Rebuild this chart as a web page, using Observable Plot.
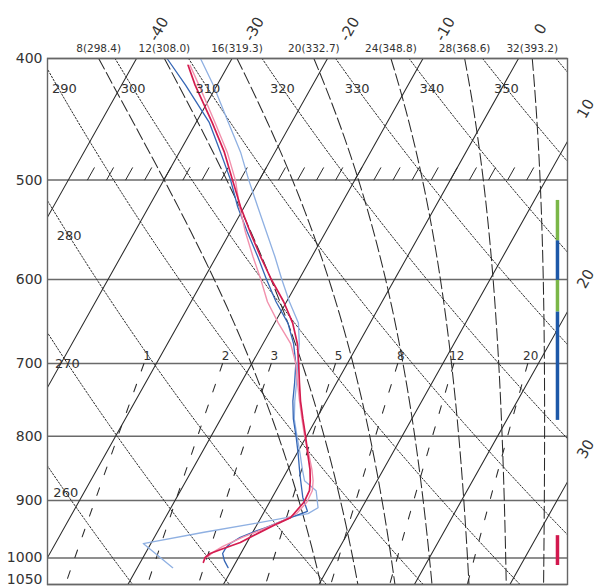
<!DOCTYPE html>
<html><head><meta charset="utf-8">
<script src="https://cdn.jsdelivr.net/npm/d3@7"></script>
<script src="https://cdn.jsdelivr.net/npm/@observablehq/plot@0.6"></script>
<style>html,body{margin:0;padding:0;background:#fff}svg{display:block}</style>
</head><body><div id="chart"></div>
<script>
// ---- reference lines of the diagram ----
const pressureLevels = [400, 500, 600, 700, 800, 900, 1000, 1050];
const isotherms = [-110, -100, -90, -80, -70, -60, -50, -40, -30, -20, -10, 0, 10, 20, 30, 40];
const isothermTopLabels = [-40, -30, -20, -10, 0];
const isothermRightLabels = [10, 20, 30];
const dryThetas = [220, 230, 240, 250, 260, 270, 280, 290, 300, 310, 320, 330, 340, 350, 360, 370, 380, 390, 400];
const dryLabelsEdge = [290];
const dryLabelsTop = [300, 310, 320, 330, 340, 350];
const dryLabelsLeft = [280, 270, 260];
const dryLabelsLeftP = [554, 700, 887];
const moistThetaW = [8, 12, 16, 20, 24, 28, 32];
const moistThetaE = [298.4, 308.0, 319.3, 332.7, 348.8, 368.6, 393.2];
const mixingRatios = [1, 2, 3, 5, 8, 12, 20];
const hatchTemps = [-38,-36,-34,-32,-30,-28,-26,-24,-22,-20,-18,-16,-14,-12,-10,-8,-6,-4,-2,0,2,4,6,8];

// ---- soundings (pressure hPa, temperature °C) ----
const redP = [405,420,450,475,500,525,550,575,600,625,650,675,700,725,750,775,800,825,850,868,884,903,929,939,956,972,983,992,999,1008];
const redT = [-34.2,-32.3,-28.3,-25.3,-22.8,-20.4,-17.9,-15.4,-12.9,-10.3,-8.1,-6.4,-5.1,-3.9,-2.7,-1.4,-0.1,1.1,2.3,3.0,3.5,3.6,3.1,2.1,0.6,-0.7,-2.1,-3.2,-3.5,-3.4];
const pinkP = [405,420,450,475,500,525,550,575,600,625,650,675,700,725,750,775,800,825,850,868,884,903,922,934,946,963,979,990,999];
const pinkT = [-34.0,-31.9,-28.0,-25.0,-22.5,-20.5,-18.4,-16.2,-14.0,-12.0,-9.6,-7.1,-5.4,-4.1,-2.8,-1.5,-0.2,1.2,2.5,3.3,3.8,3.9,3.5,2.5,1.2,-0.8,-2.3,-3.0,-3.3];
const blueP = [400,420,450,475,500,525,550,575,600,625,650,675,700,725,750,775,800,825,850,868,895,918,925,934,946,954,963,974,983,992,1005,1018];
const blueT = [-36.8,-33.3,-28.6,-25.7,-23.0,-20.7,-18.2,-15.7,-13.4,-11.1,-8.6,-6.8,-5.4,-4.4,-3.5,-2.4,-1.1,0.1,1.2,2.0,3.2,4.5,3.6,2.5,1.1,0.0,-1.0,-1.7,-1.9,-1.9,-1.3,-0.5];
const lblueP = [400,420,450,475,500,525,550,575,600,625,650,675,700,725,750,775,800,825,850,868,884,912,922,939,954,974,1018];
const lblueT = [-33.3,-30.4,-26.6,-23.6,-21.1,-18.6,-16.2,-13.9,-11.8,-9.7,-7.5,-6.2,-5.2,-4.2,-3.3,-2.3,-1.0,0.3,1.5,2.4,4.2,5.4,4.7,-0.4,-5.1,-10.8,-6.3];

// ---- layer bars at the right (pressure ranges) ----
const barTop = [519, 559, 601, 637, 960];
const barBottom = [559, 601, 637, 777, 1014];
const barColor = ["#7ab648", "#1d58a8", "#7ab648", "#1d58a8", "#d2184e"];

// ---- geometry helpers ----
const SKEW = 32.02;
const xDomain = [-49.32, 5.13];
const X = (T, p) => T - SKEW * Math.log(p / 400);
const es = Tc => 6.112 * Math.exp(17.67 * Tc / (Tc + 243.5));
const thetaE = (Tc, p) => {
  const TK = Tc + 273.15, e = es(Tc), ws = 0.622 * e / (p - e);
  return TK * Math.pow(1000 / p, 0.2857) * Math.exp(2.5e6 * ws / (1004 * TK));
};
const moistT = (te, p) => {
  let lo = -120, hi = 60;
  for (let i = 0; i < 60; i++) { const m = (lo + hi) / 2; if (thetaE(m, p) < te) lo = m; else hi = m; }
  return (lo + hi) / 2;
};
const dryT = (th, p) => th * Math.pow(p / 1000, 0.2857) - 273.15;
const dewFromW = (w, p) => { const e = w * p / (622 + w); const l = Math.log(e / 6.112); return 243.5 * l / (17.67 - l); };

const samples = d3.range(400, 1051, 10);
const isoData = isotherms.flatMap(T => [400, 1050].map(p => ({k: T, p, x: X(T, p)})));
const dryData = dryThetas.flatMap(th => samples.map(p => ({k: th, p, x: X(dryT(th, p), p)})));
const moistData = moistThetaE.flatMap(te => samples.map(p => ({k: te, p, x: X(moistT(te, p), p)})));
const mixSamples = d3.range(700, 1051, 25);
const mixData = mixingRatios.flatMap(w => mixSamples.map(p => ({k: w, p, x: X(dewFromW(w, p), p)})));
const hatchData = hatchTemps.map(T => ({x1: X(T, 500), x2: X(T, 488.5)}));

const mk = (P, T) => P.map((p, i) => ({p, x: X(T[i], p)}));
const soundings = [
  {data: mk(lblueP, lblueT), stroke: "#8fb0e2", w: 1.3},
  {data: mk(blueP, blueT), stroke: "#3566b5", w: 1.3},
  {data: mk(pinkP, pinkT), stroke: "#f291ad", w: 1.4},
  {data: mk(redP, redT), stroke: "#d41c4f", w: 1.7}
];
const bars = barTop.map((t, i) => ({y1: t, y2: barBottom[i], c: barColor[i]}));
const barX = xDomain[1] - 1.05;

const topP = 379;
const rightX = 7.05;
const isoLabels = [
  ...isothermTopLabels.map(T => ({t: String(T), x: X(T, topP) + 0.6, p: topP})),
  ...isothermRightLabels.map(T => ({t: String(T), x: rightX, p: 400 * Math.exp((T - rightX) / SKEW)}))
];
const dryLbl = (list, ps) => list.map((th, i) => {
  const p = ps ? ps[i] : 422.6;
  return {t: String(th), p, x: X(dryT(th, p), p)};
});
const moistLbl = moistThetaW.map((w, i) => ({t: `${w}(${moistThetaE[i].toFixed(1)})`, x: moistT(moistThetaE[i], 400)}));
const mixLbl = mixingRatios.map(w => ({t: String(w), x: X(dewFromW(w, 700), 700)}));
const pLabels = pressureLevels.filter(p => p !== 1050);
const pLabelsBottom = pressureLevels.filter(p => p === 1050);

const ink = "#2a2a2a";
const chart = Plot.plot({
  width: 599, height: 588,
  marginLeft: 47, marginRight: 32, marginTop: 58, marginBottom: 4,
  x: {domain: xDomain, axis: null},
  y: {type: "log", domain: [400, 1050], reverse: true, axis: null},
  style: {fontFamily: "DejaVu Sans, sans-serif", background: "#fff"},
  marks: [
    Plot.ruleY(pressureLevels, {y: d => d, stroke: "#6a6a6a", strokeWidth: 1.5}),
    Plot.line(isoData, {x: "x", y: "p", z: "k", stroke: ink, strokeWidth: 1.05, clip: true}),
    Plot.line(dryData, {x: "x", y: "p", z: "k", stroke: ink, strokeWidth: 1, strokeDasharray: "1.6,1.8", clip: true}),
    Plot.line(moistData, {x: "x", y: "p", z: "k", stroke: ink, strokeWidth: 1.05, strokeDasharray: "12,4", clip: true}),
    Plot.line(mixData, {x: "x", y: "p", z: "k", stroke: ink, strokeWidth: 1.05, strokeDasharray: "8,14", clip: true}),
    Plot.link(hatchData, {x1: "x1", x2: "x2", y1: () => 500, y2: () => 488.5, stroke: ink, strokeWidth: 1}),
    ...soundings.map(s => Plot.line(s.data, {x: "x", y: "p", stroke: s.stroke, strokeWidth: s.w, clip: true})),
    Plot.ruleX(bars, {x: () => barX, y1: "y1", y2: "y2", stroke: "c", strokeWidth: 3.5}),
    Plot.frame({stroke: "#666", strokeWidth: 1.4}),
    Plot.text(pLabels, {y: d => d, text: d => String(d), frameAnchor: "left", textAnchor: "end", dx: -5, fontSize: 14, fill: "#333"}),
    Plot.text(pLabelsBottom, {y: d => d, text: d => String(d), frameAnchor: "left", textAnchor: "end", dx: -5, dy: -5, fontSize: 14, fill: "#333"}),
    Plot.text(isoLabels, {x: "x", y: "p", text: "t", rotate: -60.5, fontSize: 15, fill: "#333"}),
    Plot.text(dryLbl(dryLabelsEdge), {x: "x", y: "p", text: "t", dx: 6, fontSize: 13, fill: "#333"}),
    Plot.text(dryLbl(dryLabelsTop), {x: "x", y: "p", text: "t", fontSize: 13, fill: "#333"}),
    Plot.text(dryLbl(dryLabelsLeft, dryLabelsLeftP), {x: "x", y: "p", text: "t", fontSize: 13, fill: "#333"}),
    Plot.text(moistLbl, {x: "x", y: () => 400, text: "t", dy: -10, fontSize: 10.5, fill: "#333"}),
    Plot.text(mixLbl, {x: "x", y: () => 700, text: "t", dx: 3, dy: -7, fontSize: 12, fill: "#333"})
  ]
});
document.getElementById("chart").appendChild(chart);
</script>
</body></html>
